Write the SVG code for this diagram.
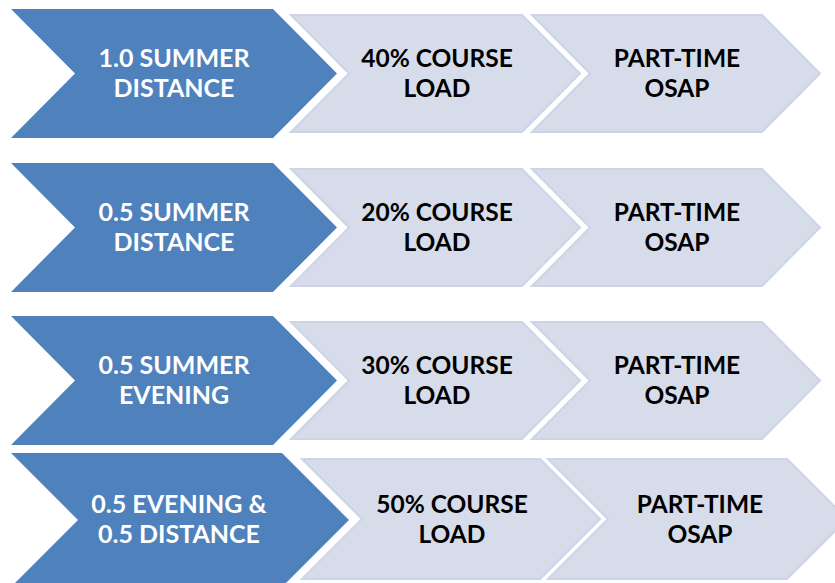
<svg xmlns="http://www.w3.org/2000/svg" width="835" height="583" viewBox="0 0 835 583">
<style>
.blue{fill:#4F81BD;}
.light{fill:#D6DCEA;stroke:#CDD4E6;stroke-width:2;}
text{font-family:Lato,"Open Sans","Liberation Sans",sans-serif;font-weight:bold;font-size:25px;text-anchor:middle;}
.w{fill:#FFFFFF;}
.k{fill:#000000;font-size:24.5px;}
</style>
<rect width="835" height="583" fill="#FFFFFF"/>
<g id="row1">
<g id="r1a"><polygon class="blue" points="11,9 273,9 337,73.5 273,138 11,138 75,73.5"/><text class="w" x="174" y="67">1.0 SUMMER</text><text class="w" x="174" y="97">DISTANCE</text></g>
<g id="r1b"><polygon class="light" points="291,15 522,15 580,73.5 522,132 291,132 349,73.5"/><text class="k" x="437" y="67">40% COURSE</text><text class="k" x="437" y="97">LOAD</text></g>
<g id="r1c"><polygon class="light" points="532,15 762,15 820,73.5 762,132 532,132 590,73.5"/><text class="k" x="677" y="67">PART-TIME</text><text class="k" x="677" y="97">OSAP</text></g>
</g>
<g id="row2" transform="translate(0,154)">
<g id="r2a"><polygon class="blue" points="11,9 273,9 337,73.5 273,138 11,138 75,73.5"/><text class="w" x="174" y="67">0.5 SUMMER</text><text class="w" x="174" y="97">DISTANCE</text></g>
<g id="r2b"><polygon class="light" points="291,15 522,15 580,73.5 522,132 291,132 349,73.5"/><text class="k" x="437" y="67">20% COURSE</text><text class="k" x="437" y="97">LOAD</text></g>
<g id="r2c"><polygon class="light" points="532,15 762,15 820,73.5 762,132 532,132 590,73.5"/><text class="k" x="677" y="67">PART-TIME</text><text class="k" x="677" y="97">OSAP</text></g>
</g>
<g id="row3" transform="translate(0,307)">
<g id="r3a"><polygon class="blue" points="11,9 273,9 337,73.5 273,138 11,138 75,73.5"/><text class="w" x="174" y="67">0.5 SUMMER</text><text class="w" x="174" y="97">EVENING</text></g>
<g id="r3b"><polygon class="light" points="291,15 522,15 580,73.5 522,132 291,132 349,73.5"/><text class="k" x="437" y="67">30% COURSE</text><text class="k" x="437" y="97">LOAD</text></g>
<g id="r3c"><polygon class="light" points="532,15 762,15 820,73.5 762,132 532,132 590,73.5"/><text class="k" x="677" y="67">PART-TIME</text><text class="k" x="677" y="97">OSAP</text></g>
</g>
<g id="row4">
<g id="r4a"><polygon class="blue" points="11,453 282,453 349,520 282,587 11,587 78,520"/><text class="w" x="179" y="513">0.5 EVENING &amp;</text><text class="w" x="179" y="543">0.5 DISTANCE</text></g>
<g id="r4b"><polygon class="light" points="302,459 540,459 600,519 540,579 302,579 362,519"/><text class="k" x="452" y="513">50% COURSE</text><text class="k" x="452" y="543">LOAD</text></g>
<g id="r4c"><polygon class="light" points="548,459 787,459 847,519 787,579 548,579 608,519"/><text class="k" x="700" y="513">PART-TIME</text><text class="k" x="700" y="543">OSAP</text></g>
</g>
<g id="connectors"></g>
</svg>
